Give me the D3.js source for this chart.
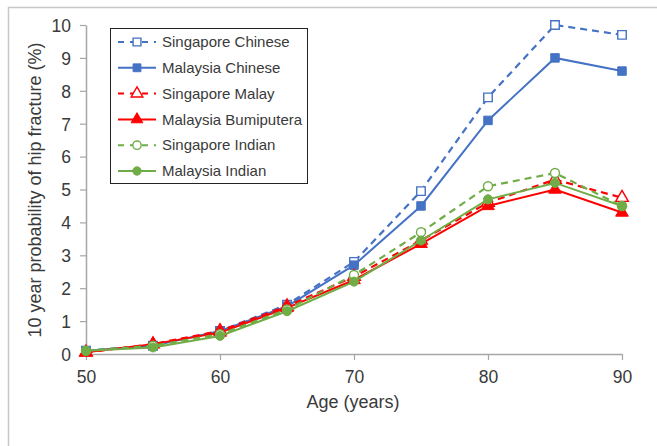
<!DOCTYPE html>
<html><head><meta charset="utf-8">
<script src="https://cdn.jsdelivr.net/npm/d3@7"></script>
<style>body{margin:0;background:#fff}svg{display:block;font-family:"Liberation Sans",Arial,sans-serif}</style>
</head><body>
<svg id="c" width="657" height="446"></svg>
<script>
const ages = [50,55,60,65,70,75,80,85,90];
const seriesNames = ["Singapore Chinese","Malaysia Chinese","Singapore Malay","Malaysia Bumiputera","Singapore Indian","Malaysia Indian"];
const singaporeChinese = [0.1,0.25,0.7,1.5,2.8,4.95,7.8,10.0,9.7];
const malaysiaChinese  = [0.1,0.25,0.7,1.45,2.7,4.5,7.1,9.0,8.6];
const singaporeMalay   = [0.05,0.3,0.7,1.45,2.35,3.45,4.6,5.3,4.75];
const malaysiaBumi     = [0.05,0.3,0.65,1.4,2.25,3.35,4.5,5.0,4.3];
const singaporeIndian  = [0.1,0.25,0.6,1.35,2.4,3.7,5.1,5.5,4.5];
const malaysiaIndian   = [0.1,0.2,0.55,1.3,2.2,3.45,4.7,5.2,4.5];
const yTicks = [0,1,2,3,4,5,6,7,8,9,10];
const xTicks = [50,60,70,80,90];

const series = [
  {name:seriesNames[0], values:singaporeChinese, color:"#4472C4", dashed:true,  shape:"square",   filled:false},
  {name:seriesNames[1], values:malaysiaChinese,  color:"#4472C4", dashed:false, shape:"square",   filled:true},
  {name:seriesNames[2], values:singaporeMalay,   color:"#FF0000", dashed:true,  shape:"triangle", filled:false},
  {name:seriesNames[3], values:malaysiaBumi,     color:"#FF0000", dashed:false, shape:"triangle", filled:true},
  {name:seriesNames[4], values:singaporeIndian,  color:"#70AD47", dashed:true,  shape:"circle",   filled:false},
  {name:seriesNames[5], values:malaysiaIndian,   color:"#70AD47", dashed:false, shape:"circle",   filled:true}
];

const svg = d3.select("#c");
svg.append("rect").attr("x",8.5).attr("y",7.5).attr("width",700).attr("height",500)
  .attr("fill","none").attr("stroke","#c8c8c8").attr("stroke-width",1.5);

const x = d3.scaleLinear().domain([50,90]).range([86,622]);
const y = d3.scaleLinear().domain([0,10]).range([354,25]);
const axisColor = "#a6a6a6";
const textColor = "#3a3a3a";

const gx = svg.append("g").attr("transform","translate(0,354)")
  .call(d3.axisBottom(x).tickValues(xTicks).tickSize(6).tickSizeOuter(0));
const gy = svg.append("g").attr("transform","translate(86,0)")
  .call(d3.axisLeft(y).tickValues(yTicks).tickSize(6).tickSizeOuter(0).tickPadding(9));
[gx,gy].forEach(g=>{
  g.select(".domain").attr("stroke",axisColor).attr("stroke-width",1.5);
  g.selectAll(".tick line").attr("stroke",axisColor).attr("stroke-width",1.2);
  g.selectAll("text").attr("fill",textColor).style("font-size","17.5px").style("font-family","'Liberation Sans',Arial,sans-serif");
});
gx.selectAll("text").attr("y",29).attr("dy",0);
gy.selectAll("text").attr("dy","0.36em");

svg.append("text").attr("x",353).attr("y",408).attr("text-anchor","middle")
  .attr("fill",textColor).style("font-size","18px").text("Age (years)");
svg.append("text").attr("transform","translate(41,190) rotate(-90)").attr("text-anchor","middle")
  .attr("fill",textColor).style("font-size","18px").text("10 year probability of hip fracture (%)");

const symType = {square:d3.symbolSquare, triangle:d3.symbolTriangle, circle:d3.symbolCircle};
const symSize = {square:72, triangle:70, circle:64};

function drawMarker(g, s, cx, cy, scale){
  g.append("path").attr("d", d3.symbol().type(symType[s.shape]).size(symSize[s.shape]*(scale||1))())
    .attr("transform",`translate(${cx},${cy})`)
    .attr("fill", s.filled ? s.color : "#fff")
    .attr("stroke", s.color).attr("stroke-width", s.filled?1:1.4);
}

const line = d3.line().x((d,i)=>x(ages[i])).y(d=>y(d));
series.forEach(s=>{
  const g = svg.append("g");
  g.append("path").attr("d", line(s.values)).attr("fill","none")
    .attr("stroke", s.color).attr("stroke-width", s.dashed?2.2:2)
    .attr("stroke-dasharray", s.dashed?"7,5":null);
  s.values.forEach((v,i)=>drawMarker(g, s, x(ages[i]), y(v)));
});

// legend
const lg = svg.append("g");
lg.append("rect").attr("x",110.5).attr("y",28.5).attr("width",197).attr("height",155)
  .attr("fill","#fff").attr("stroke","#222").attr("stroke-width",1);
series.forEach((s,i)=>{
  const ly = 42 + i*25.8;
  lg.append("line").attr("x1",118).attr("x2",156).attr("y1",ly).attr("y2",ly)
    .attr("stroke",s.color).attr("stroke-width",2)
    .attr("stroke-dasharray", s.dashed?"6,6":null);
  drawMarker(lg, s, 137, ly, 0.85);
  lg.append("text").attr("x",162).attr("y",ly).attr("dy","0.35em")
    .attr("fill",textColor).style("font-size","15px").text(s.name);
});
</script>
</body></html>
